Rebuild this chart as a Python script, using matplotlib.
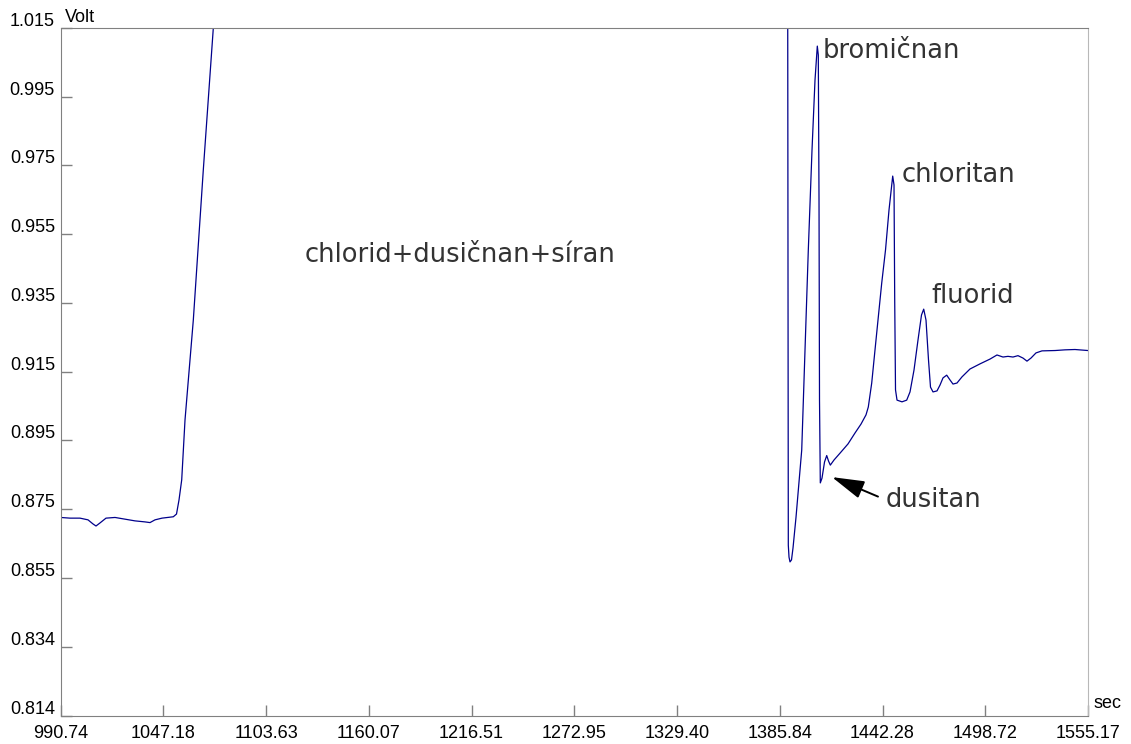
import matplotlib
matplotlib.use("Agg")
from matplotlib import pyplot as plt
import matplotlib.transforms as mtransforms
import numpy as np

# chromatogram trace (time [s], signal [V])
time_s = [990.74, 995.96, 1001.45, 1005.85, 1008.59, 1010.24, 1012.44, 1015.73,
          1020.68, 1026.17, 1031.66, 1037.16, 1039.90, 1042.65, 1046.50, 1052.70,
          1054.46, 1055.83, 1057.32, 1059.13, 1063.69, 1069.18, 1074.68, 1075.33,
          1200.00, 1390.20,
          1390.20, 1390.53, 1390.92, 1391.47, 1392.29, 1393.12, 1394.77, 1397.90,
          1399.71, 1401.52, 1403.55, 1405.20, 1406.46, 1407.01, 1407.40, 1407.67,
          1408.11, 1409.04, 1410.42, 1411.63, 1412.62, 1413.61, 1415.64, 1418.94,
          1423.33, 1427.18, 1430.47, 1433.22, 1434.48, 1436.35, 1438.16, 1439.97,
          1441.84, 1443.93, 1445.85, 1447.88, 1448.60, 1448.98, 1449.42, 1450.25,
          1452.99, 1455.57, 1457.39, 1459.58, 1461.78, 1463.70, 1464.91, 1466.17,
          1467.55, 1468.64, 1470.02, 1472.21, 1473.86, 1475.51, 1477.54, 1479.35,
          1481.00, 1483.19, 1485.94, 1490.33, 1495.83, 1501.32, 1505.16, 1508.46,
          1511.20, 1513.95, 1516.70, 1519.44, 1521.64, 1523.84, 1526.58, 1529.88,
          1537.02, 1542.51, 1548.00, 1555.17]
signal_v = [0.8719, 0.8717, 0.8717, 0.8712, 0.8700, 0.8694, 0.8703, 0.8717,
            0.8719, 0.8714, 0.8709, 0.8706, 0.8704, 0.8712, 0.8717, 0.8721,
            0.8729, 0.8770, 0.8829, 0.9004, 0.9296, 0.9735, 1.0150, 1.0200,
            1.0600, 1.0600,
            1.0246, 0.8638, 0.8603, 0.8589, 0.8595, 0.8630, 0.8720, 0.8916,
            0.9209, 0.9501, 0.9793, 0.9998, 1.0097, 1.0071, 0.9647, 0.9062,
            0.8820, 0.8834, 0.8881, 0.8900, 0.8884, 0.8872, 0.8887, 0.8907,
            0.8934, 0.8966, 0.8992, 0.9019, 0.9042, 0.9112, 0.9209, 0.9305,
            0.9404, 0.9501, 0.9618, 0.9717, 0.9691, 0.9355, 0.9092, 0.9062,
            0.9057, 0.9062, 0.9086, 0.9150, 0.9238, 0.9311, 0.9328, 0.9296,
            0.9179, 0.9100, 0.9086, 0.9089, 0.9106, 0.9127, 0.9135, 0.9121,
            0.9109, 0.9112, 0.9130, 0.9153, 0.9168, 0.9182, 0.9194, 0.9188,
            0.9190, 0.9188, 0.9192, 0.9185, 0.9176, 0.9185, 0.9200, 0.9206,
            0.9207, 0.9209, 0.9210, 0.9207]

x_ticks = [990.74, 1047.18, 1103.63, 1160.07, 1216.51, 1272.95, 1329.40,
           1385.84, 1442.28, 1498.72, 1555.17]
y_tick_labels = ["0.814", "0.834", "0.855", "0.875", "0.895", "0.915",
                 "0.935", "0.955", "0.975", "0.995", "1.015"]

# peak labels: text, time, signal (baseline of the text)
peak_names = ["bromičnan", "chloritan", "fluorid", "dusitan", "chlorid+dusičnan+síran"]
peak_t = [1409.6, 1452.8, 1469.3, 1444.2, 1125.0]
peak_v = [1.0062, 0.9701, 0.9346, 0.8750, 0.9467]
arrow_tip = (1414.5, 0.8837)
arrow_tail = (1439.8, 0.8780)


def main():
    plt.rcParams.update({'font.family': 'Liberation Sans', 'font.size': 13})
    fig = plt.figure(figsize=(11.31, 7.44), dpi=100)
    ax = fig.add_axes([0.0535, 0.0383, 0.9085, 0.9241])

    ax.plot(time_s, signal_v, color="#00008b", lw=0.9)

    ax.set_xlim(x_ticks[0], x_ticks[-1])
    ax.set_ylim(0.814, 1.015)
    ax.set_xticks(x_ticks)
    ax.set_xticklabels([f"{t:.2f}" for t in x_ticks])
    ax.set_yticks(np.linspace(0.814, 1.015, len(y_tick_labels)))
    ax.set_yticklabels(y_tick_labels)
    ax.tick_params(direction="in", length=8, color="#808080", width=1)
    ax.tick_params(axis="x", pad=7)
    ax.tick_params(axis="y", pad=4)
    # y labels sit just above their ticks
    shift = mtransforms.ScaledTranslation(0, 2 / 100, fig.dpi_scale_trans)
    for lab in ax.get_yticklabels():
        lab.set_va("baseline")
        lab.set_transform(lab.get_transform() + shift)
    for side in ["left", "bottom", "top"]:
        ax.spines[side].set_color("#808080")
    ax.spines["right"].set_color("#b8b8b8")

    ax.text(0.004, 1.003, "Volt", transform=ax.transAxes, fontsize=13,
            va="bottom", ha="left")
    ax.text(1.005, 0.005, "sec", transform=ax.transAxes, fontsize=13,
            va="bottom", ha="left")

    for name, t, v in zip(peak_names, peak_t, peak_v):
        ax.text(t, v, name, fontsize=18.5, color="#333333", family="DejaVu Sans",
                ha="left", va="baseline")

    ax.annotate("", xy=arrow_tip, xytext=arrow_tail,
                arrowprops=dict(arrowstyle="-|>,head_length=1.0,head_width=0.28",
                                mutation_scale=20, color="black", lw=1.4,
                                shrinkA=0, shrinkB=0))

    fig.savefig("out.png", dpi=100)


if __name__ == "__main__":
    main()
